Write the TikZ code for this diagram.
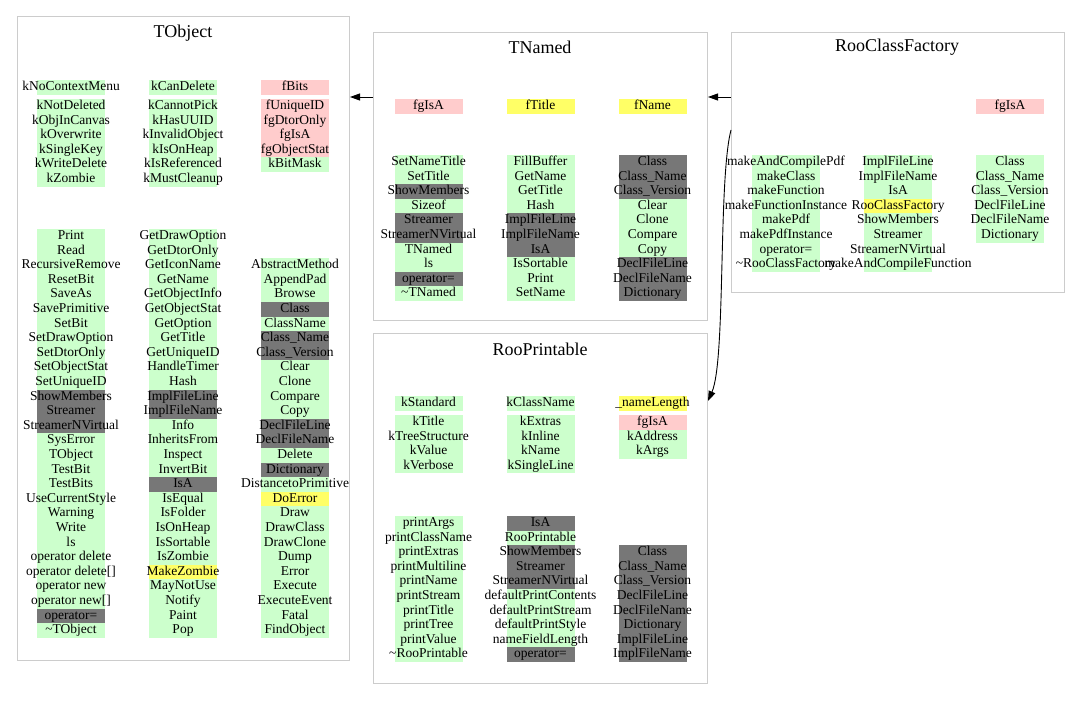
\documentclass[tikz,border=0pt]{standalone}
\usepackage{fontspec}
\setmainfont{Liberation Serif}
\usetikzlibrary{arrows.meta}
\definecolor{cg}{RGB}{204,255,204}
\definecolor{cp}{RGB}{255,204,204}
\definecolor{cy}{RGB}{255,255,102}
\definecolor{cd}{RGB}{119,119,119}
\definecolor{frm}{RGB}{204,204,204}
\tikzset{
  cell/.style={minimum height=14.6pt, inner sep=0pt, text height=9pt, text depth=2.5pt,
    font=\fontsize{13.5}{14}\selectfont},
  frame/.style={draw=frm, line width=1pt, inner sep=0pt, anchor=north west},
  boxtitle/.style={font=\fontsize{18}{20}\selectfont, inner sep=0pt},
  arr/.style={draw=black, line width=0.9pt, -{Triangle[length=10pt,width=7pt]}}
}
\newcommand\cellcol[4]{%
  \foreach \kk/\ww [count=\i] in {#4} {%
    \node[cell, fill=c\kk] (#1-\i) at (#2, {#3+(\i-0.5)*14.6}) {\makebox[68pt]{\ww}};
  }}
\begin{document}
\begin{tikzpicture}[x=1pt, y=-1pt]
\useasboundingbox (0,0) rectangle (1080,709);
\fill[white] (0,0) rectangle (1080,709);

% ---------- frames ----------
\node[frame, minimum width=332pt, minimum height=644pt] (tobject) at (17,16) {};
\node[frame, minimum width=334pt, minimum height=288pt] (tnamed) at (373,32) {};
\node[frame, minimum width=333pt, minimum height=260pt] (rcf) at (731,32) {};
\node[frame, minimum width=334pt, minimum height=350pt] (rprint) at (373,333) {};

\node[boxtitle] (tobject-t) at (183,33) {TObject};
\node[boxtitle] (tnamed-t) at (540,47) {TNamed};
\node[boxtitle] (rcf-t) at (897,47) {RooClassFactory};
\node[boxtitle] (rprint-t) at (540,349) {RooPrintable};

% ---------- TObject ----------
\cellcol{to-a1}{71}{80}{g/kNoContextMenu}
\cellcol{to-b1}{71}{99}{g/kNotDeleted, g/kObjInCanvas, g/kOverwrite, g/kSingleKey, g/kWriteDelete, g/kZombie}
\cellcol{to-a2}{183}{80}{g/kCanDelete}
\cellcol{to-b2}{183}{99}{g/kCannotPick, g/kHasUUID, g/kInvalidObject, g/kIsOnHeap, g/kIsReferenced, g/kMustCleanup}
\cellcol{to-a3}{295}{80}{p/fBits}
\cellcol{to-b3}{295}{99}{p/fUniqueID, p/fgDtorOnly, p/fgIsA, p/fgObjectStat, g/kBitMask}

\cellcol{to-m1}{71}{229}{g/Print, g/Read, g/RecursiveRemove, g/ResetBit, g/SaveAs, g/SavePrimitive, g/SetBit, g/SetDrawOption, g/SetDtorOnly, g/SetObjectStat, g/SetUniqueID, d/ShowMembers, d/Streamer, d/StreamerNVirtual, g/SysError, g/TObject, g/TestBit, g/TestBits, g/UseCurrentStyle, g/Warning, g/Write, g/ls, g/{operator delete}, g/{operator delete[]}, g/{operator new}, g/{operator new[]}, d/{operator=}, g/{\textasciitilde TObject}}
\cellcol{to-m2}{183}{229}{g/GetDrawOption, g/GetDtorOnly, g/GetIconName, g/GetName, g/GetObjectInfo, g/GetObjectStat, g/GetOption, g/GetTitle, g/GetUniqueID, g/HandleTimer, g/Hash, d/ImplFileLine, d/ImplFileName, g/Info, g/InheritsFrom, g/Inspect, g/InvertBit, d/IsA, g/IsEqual, g/IsFolder, g/IsOnHeap, g/IsSortable, g/IsZombie, y/MakeZombie, g/MayNotUse, g/Notify, g/Paint, g/Pop}
\cellcol{to-m3}{295}{258.2}{g/AbstractMethod, g/AppendPad, g/Browse, d/Class, g/ClassName, d/{Class\_Name}, d/{Class\_Version}, g/Clear, g/Clone, g/Compare, g/Copy, d/DeclFileLine, d/DeclFileName, g/Delete, d/Dictionary, g/DistancetoPrimitive, y/DoError, g/Draw, g/DrawClass, g/DrawClone, g/Dump, g/Error, g/Execute, g/ExecuteEvent, g/Fatal, g/FindObject}

% ---------- TNamed ----------
\cellcol{tn-f1}{428.5}{99}{p/fgIsA}
\cellcol{tn-f2}{540.5}{99}{y/fTitle}
\cellcol{tn-f3}{652.5}{99}{y/fName}
\cellcol{tn-m1}{428.5}{155}{g/SetNameTitle, g/SetTitle, d/ShowMembers, g/Sizeof, d/Streamer, d/StreamerNVirtual, g/TNamed, g/ls, d/{operator=}, g/{\textasciitilde TNamed}}
\cellcol{tn-m2}{540.5}{155}{g/FillBuffer, g/GetName, g/GetTitle, g/Hash, d/ImplFileLine, d/ImplFileName, d/IsA, g/IsSortable, g/Print, g/SetName}
\cellcol{tn-m3}{652.5}{155}{d/Class, d/{Class\_Name}, d/{Class\_Version}, g/Clear, g/Clone, g/Compare, g/Copy, d/DeclFileLine, d/DeclFileName, d/Dictionary}

% ---------- RooClassFactory ----------
\cellcol{rc-f3}{1010}{99}{p/fgIsA}
\cellcol{rc-m1}{786}{155}{g/makeAndCompilePdf, g/makeClass, g/makeFunction, g/makeFunctionInstance, g/makePdf, g/makePdfInstance, g/{operator=}, g/{\textasciitilde RooClassFactory}}
\cellcol{rc-m2}{898}{155}{g/ImplFileLine, g/ImplFileName, g/IsA, y/RooClassFactory, g/ShowMembers, g/Streamer, g/StreamerNVirtual, g/makeAndCompileFunction}
\cellcol{rc-m3}{1010}{155}{g/Class, g/{Class\_Name}, g/{Class\_Version}, g/DeclFileLine, g/DeclFileName, g/Dictionary}

% ---------- RooPrintable ----------
\cellcol{rp-a1}{428.5}{396}{g/kStandard}
\cellcol{rp-a2}{540.5}{396}{g/kClassName}
\cellcol{rp-a3}{652.5}{396}{y/{\_nameLength}}
\cellcol{rp-b1}{428.5}{415}{g/kTitle, g/kTreeStructure, g/kValue, g/kVerbose}
\cellcol{rp-b2}{540.5}{415}{g/kExtras, g/kInline, g/kName, g/kSingleLine}
\cellcol{rp-b3}{652.5}{415}{p/fgIsA, g/kAddress, g/kArgs}
\cellcol{rp-m1}{428.5}{516}{g/printArgs, g/printClassName, g/printExtras, g/printMultiline, g/printName, g/printStream, g/printTitle, g/printTree, g/printValue, g/{\textasciitilde RooPrintable}}
\cellcol{rp-m2}{540.5}{516}{d/IsA, g/RooPrintable, d/ShowMembers, d/Streamer, d/StreamerNVirtual, g/defaultPrintContents, g/defaultPrintStream, g/defaultPrintStyle, g/nameFieldLength, d/{operator=}}
\cellcol{rp-m3}{652.5}{545.2}{d/Class, d/{Class\_Name}, d/{Class\_Version}, d/DeclFileLine, d/DeclFileName, d/Dictionary, d/ImplFileLine, d/ImplFileName}

% ---------- connectors ----------
\coordinate (ya) at (0,97);
\coordinate (cs) at (0,130);
\coordinate (ce) at (0,401);
\draw[arr] (tnamed.west |- ya) -- (tobject.east |- ya);
\draw[arr] (rcf.west |- ya) -- (tnamed.east |- ya);
\draw[arr] (rcf.west |- cs) .. controls (718,180) and (726,360) .. (rprint.east |- ce);
\end{tikzpicture}
\end{document}
